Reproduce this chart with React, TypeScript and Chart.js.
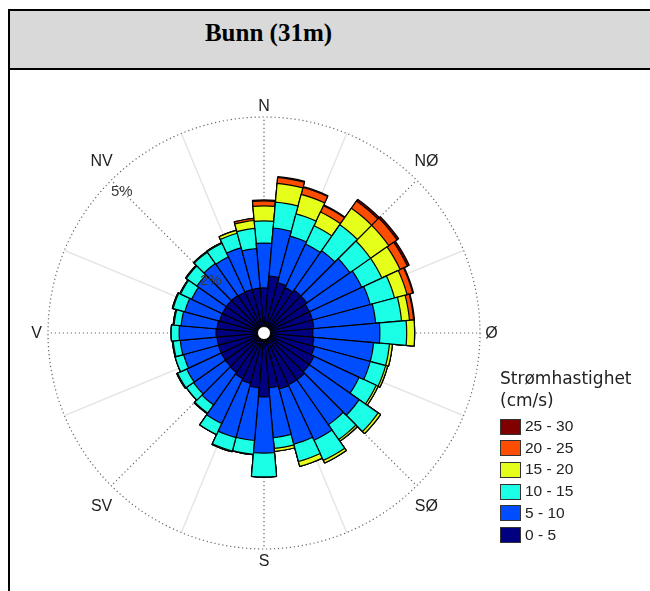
import React, { useEffect, useRef } from 'react';
import { Chart, registerables } from 'chart.js';

Chart.register(...registerables);

// 36 direction sectors (10° each, centred on N = 0°)
const directions = [
  '0°', '10°', '20°', '30°', '40°', '50°', '60°', '70°', '80°', '90°', '100°', '110°',
  '120°', '130°', '140°', '150°', '160°', '170°', '180°', '190°', '200°', '210°', '220°', '230°',
  '240°', '250°', '260°', '270°', '280°', '290°', '300°', '310°', '320°', '330°', '340°', '350°',
];

const speedClasses = ['0 - 5', '5 - 10', '10 - 15', '15 - 20', '20 - 25', '25 - 30'];
const classColors = ['#000080', '#004DFF', '#1AFFE6', '#E6FF1A', '#FF4D00', '#800000'];

// frequency (%) per sector for each speed class
const speed0to5 = [0.92, 1.21, 1.09, 1.04, 1.09, 1.09, 1.04, 1.04, 1.04, 1.01, 1.04, 1.09, 1.16, 1.16, 1.21, 1.21, 1.23, 1.16, 1.37, 1.16, 1.09, 1.04, 0.99, 0.97, 0.97, 0.97, 0.97, 0.99, 0.97, 0.94, 0.94, 0.94, 0.94, 0.92, 0.92, 0.92];
const speed5to10 = [1.07, 1.15, 1.15, 1.15, 1.15, 1.26, 1.38, 1.43, 1.48, 1.6, 1.43, 1.38, 1.19, 1.46, 1.31, 1.46, 1.36, 1.19, 1.34, 1.26, 1.34, 1.19, 0.95, 0.93, 0.91, 0.86, 0.88, 0.88, 0.86, 0.86, 0.81, 0.86, 0.93, 0.93, 1.03, 0.95];
const speed10to15 = [0.53, 0.62, 0.55, 0.48, 0.76, 0.6, 0.53, 0.6, 0.62, 0.64, 0.38, 0.38, 0.45, 0.55, 0.43, 0.53, 0.43, 0.26, 0.57, 0.33, 0.33, 0.29, 0.24, 0.21, 0.24, 0.21, 0.17, 0.19, 0.17, 0.29, 0.29, 0.31, 0.33, 0.36, 0.36, 0.48];
const speed15to20 = [0.36, 0.45, 0.48, 0.36, 0.48, 0.53, 0.48, 0.31, 0.19, 0.19, 0.07, 0.05, 0.05, 0.07, 0.05, 0.07, 0.12, 0.07, 0, 0.01, 0.02, 0, 0.02, 0, 0.02, 0, 0.02, 0, 0.02, 0.02, 0.02, 0.02, 0.02, 0.02, 0.07, 0.19];
const speed20to25 = [0.12, 0.14, 0.17, 0.17, 0.21, 0.24, 0.19, 0.14, 0.1, 0, 0, 0, 0, 0, 0, 0, 0, 0, 0, 0, 0, 0, 0, 0, 0, 0, 0, 0, 0, 0, 0, 0, 0, 0, 0, 0.05];
const speed25to30 = [0.02, 0.02, 0.02, 0.02, 0.05, 0.05, 0.05, 0.02, 0.02, 0, 0, 0, 0, 0, 0, 0, 0, 0, 0, 0, 0, 0, 0, 0, 0, 0, 0, 0, 0, 0, 0, 0, 0, 0, 0, 0];

const classSeries = [speed0to5, speed5to10, speed10to15, speed15to20, speed20to25, speed25to30];

// radial grid (%)
const gridCircles = [2, 5];
const gridLabels = ['2%', '5%'];
const axisMax = 5;
const axisMin = -0.155; // leaves the small calm hole in the centre

const compassLabels = ['N', 'NØ', 'Ø', 'SØ', 'S', 'SV', 'V', 'NV'];

const toXY = (cx: number, cy: number, r: number, deg: number) => {
  const a = (deg * Math.PI) / 180;
  return [cx + r * Math.sin(a), cy - r * Math.cos(a)];
};

const roseDecor = {
  id: 'roseDecor',
  beforeDatasetsDraw(chart: any) {
    const s = chart.scales.r;
    const ctx = chart.ctx;
    const cx = s.xCenter;
    const cy = s.yCenter;
    const R = s.getDistanceFromCenterForValue(axisMax);
    ctx.save();
    // light solid spokes
    ctx.strokeStyle = '#e4e4e4';
    ctx.lineWidth = 1.4;
    for (let k = 0; k < 8; k++) {
      const [x, y] = toXY(cx, cy, R, 22.5 + 45 * k);
      ctx.beginPath();
      ctx.moveTo(cx, cy);
      ctx.lineTo(x, y);
      ctx.stroke();
    }
    // dotted spokes
    ctx.strokeStyle = '#666';
    ctx.lineWidth = 1.2;
    ctx.setLineDash([1.2, 2.8]);
    for (let k = 0; k < 8; k++) {
      const [x, y] = toXY(cx, cy, R, 45 * k);
      ctx.beginPath();
      ctx.moveTo(cx, cy);
      ctx.lineTo(x, y);
      ctx.stroke();
    }
    // dotted circles
    gridCircles.forEach((v) => {
      const r = s.getDistanceFromCenterForValue(v);
      ctx.beginPath();
      ctx.arc(cx, cy, r, 0, Math.PI * 2);
      ctx.stroke();
    });
    ctx.restore();
  },
  afterDatasetsDraw(chart: any) {
    const s = chart.scales.r;
    const ctx = chart.ctx;
    const cx = s.xCenter;
    const cy = s.yCenter;
    const R = s.getDistanceFromCenterForValue(axisMax);
    const r0 = s.getDistanceFromCenterForValue(0);
    ctx.save();
    // centre hole
    ctx.beginPath();
    ctx.arc(cx, cy, r0, 0, Math.PI * 2);
    ctx.fillStyle = '#fff';
    ctx.fill();
    ctx.lineWidth = 1;
    ctx.strokeStyle = '#000';
    ctx.stroke();
    // percentage labels along NV
    ctx.font = '15px "Liberation Sans", Arial, sans-serif';
    ctx.textAlign = 'center';
    ctx.textBaseline = 'middle';
    gridCircles.forEach((v, i) => {
      const r = s.getDistanceFromCenterForValue(v) - 15;
      const [x, y] = toXY(cx, cy, r, -45);
      ctx.fillStyle = '#3a3a3a';
      ctx.fillText(gridLabels[i], x, y + 1);
    });
    // compass labels
    ctx.font = '16px "Liberation Sans", Arial, sans-serif';
    ctx.fillStyle = '#222';
    compassLabels.forEach((lab, k) => {
      const deg = 45 * k;
      let x: number;
      let y: number;
      if (k % 2 === 0) {
        [x, y] = toXY(cx, cy, R * 1.053, deg);
      } else {
        const sx = Math.sign(Math.sin((deg * Math.PI) / 180));
        const sy = -Math.sign(Math.cos((deg * Math.PI) / 180));
        x = cx + sx * R * 0.752;
        y = cy + sy * R * 0.8;
      }
      ctx.fillText(lab, x, y + 1);
    });
    ctx.restore();
  },
};

function RoseChart() {
  const ref = useRef<HTMLCanvasElement>(null);
  useEffect(() => {
    if (!ref.current) return;
    // cumulative stacks, drawn outermost first (last dataset drawn first)
    const cumulative: number[][] = [];
    classSeries.forEach((arr, i) => {
      cumulative.push(arr.map((v, j) => v + (i > 0 ? cumulative[i - 1][j] : 0)));
    });
    const chart = new Chart(ref.current, {
      type: 'polarArea',
      data: {
        labels: directions,
        datasets: cumulative.map((d, i) => ({
          label: speedClasses[i],
          data: d,
          backgroundColor: classColors[i],
          borderColor: '#000',
          borderWidth: 1.2,
        })),
      },
      options: {
        animation: false,
        responsive: false,
        maintainAspectRatio: false,
        startAngle: -5,
        layout: { padding: { left: 38, top: 46, right: 170, bottom: 42 } },
        plugins: { legend: { display: false }, tooltip: { enabled: false } },
        scales: {
          r: {
            min: axisMin,
            max: axisMax,
            startAngle: -5,
            ticks: { display: false },
            grid: { display: false },
            angleLines: { display: false },
            pointLabels: { display: false },
          },
        },
      } as any,
      plugins: [roseDecor],
    });
    return () => chart.destroy();
  }, []);
  return (
    <canvas
      ref={ref}
      width={640}
      height={520}
      style={{ position: 'absolute', left: 10, top: 71, width: 640, height: 520 }}
    />
  );
}

export default function App() {
  const legendOrder = [5, 4, 3, 2, 1, 0];
  const abs = { position: 'absolute' as const };
  return (
    <div style={{ position: 'fixed', left: 0, top: 0, width: 650, height: 591, overflow: 'hidden', background: '#fff' }}>
      {/* header cell */}
      <div style={{ ...abs, left: 10, top: 11, width: 640, height: 57, background: '#d9d9d9' }} />
      <div style={{ ...abs, left: 8, top: 9, width: 642, height: 2, background: '#000' }} />
      <div style={{ ...abs, left: 8, top: 68, width: 642, height: 2, background: '#000' }} />
      <div style={{ ...abs, left: 8, top: 9, width: 2, height: 582, background: '#000' }} />
      <div
        style={{
          ...abs, left: 0, top: 18, width: 537, textAlign: 'center',
          font: 'bold 25px "Liberation Serif", "Times New Roman", serif', lineHeight: '30px', color: '#000',
        }}
      >
        Bunn (31m)
      </div>
      <RoseChart />
      <div style={{ ...abs, left: 500, top: 368, font: '17px "DejaVu Sans", sans-serif', lineHeight: '20px', color: '#222', whiteSpace: 'nowrap' }}>
        Strømhastighet
      </div>
      <div style={{ ...abs, left: 500, top: 390, font: '17px "DejaVu Sans", sans-serif', lineHeight: '20px', color: '#222', whiteSpace: 'nowrap' }}>
        (cm/s)
      </div>
      {legendOrder.map((ci, row) => (
        <React.Fragment key={ci}>
          <div
            style={{
              ...abs, left: 500, top: 418.5 + row * 21.7, width: 21, height: 16,
              boxSizing: 'border-box', border: '1.5px solid #333', background: classColors[ci],
            }}
          />
          <div
            style={{
              ...abs, left: 525, top: 416 + row * 21.7,
              font: '15.5px "Liberation Sans", Arial, sans-serif', lineHeight: '20px', color: '#222', whiteSpace: 'nowrap',
            }}
          >
            {speedClasses[ci]}
          </div>
        </React.Fragment>
      ))}
    </div>
  );
}
